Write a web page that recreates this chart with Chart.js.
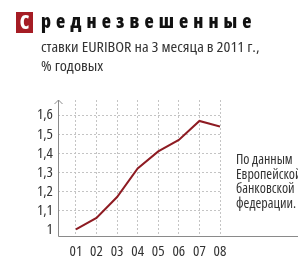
<!DOCTYPE html>
<html><head><meta charset="utf-8">
<script src="https://cdn.jsdelivr.net/npm/chart.js@4/dist/chart.umd.min.js"></script>
<style>
html,body{margin:0;padding:0;background:#fff;}
#wrap{position:relative;width:298px;height:261px;overflow:hidden;font-family:"Open Sans",sans-serif;font-stretch:condensed;color:#222;}
#c{position:absolute;left:0;top:0;}
.t{position:absolute;white-space:nowrap;}
#box{left:16px;top:12px;width:17px;height:21px;background:#a51c24;color:#fff;font-weight:800;font-size:19px;line-height:21px;text-align:center;}
#h1{left:41px;top:8px;font-weight:800;font-size:19px;letter-spacing:5.1px;line-height:26px;color:#111;}
#h2{left:41px;top:37px;font-size:14.5px;line-height:20px;color:#333;transform:scaleX(1.12);transform-origin:0 0;}
#h3{left:41px;top:56px;font-size:14.5px;line-height:20px;color:#333;transform:scaleX(1.12);transform-origin:0 0;}
#note{left:236px;top:152px;font-size:14px;line-height:14.5px;color:#333;}
</style></head>
<body><div id="wrap">
<canvas id="c" width="298" height="261"></canvas>
<div class="t" id="box">С</div>
<div class="t" id="h1">реднезвешенные</div>
<div class="t" id="h2">ставки EURIBOR на 3 месяца в 2011 г.,</div>
<div class="t" id="h3">% годовых</div>
<div class="t" id="note">По данным<br>Европейской<br>банковской<br>федерации.</div>
</div>
<script>
const categories = ['01','02','03','04','05','06','07','08'];
const rates = [1.00, 1.06, 1.17, 1.32, 1.41, 1.47, 1.57, 1.54];
const yTickValues = [1, 1.1, 1.2, 1.3, 1.4, 1.5, 1.6];
const yTickLabels = ['1','1,1','1,2','1,3','1,4','1,5','1,6'];

const points = rates.map((v, i) => ({x: i + 1, y: v}));
const FONT = '"Open Sans",sans-serif';

// make canvas text condensed (ctx.font resets stretch, so re-apply on every set)
const canvas = document.getElementById('c');
const ctx2d = canvas.getContext('2d');
const fontDesc = Object.getOwnPropertyDescriptor(CanvasRenderingContext2D.prototype, 'font');
if (fontDesc && 'fontStretch' in ctx2d) {
  Object.defineProperty(ctx2d, 'font', {
    configurable: true,
    get() { return fontDesc.get.call(this); },
    set(v) { fontDesc.set.call(this, v); this.fontStretch = 'condensed'; }
  });
}

const axesPlugin = {
  id: 'axesPlugin',
  afterDraw(chart) {
    const {ctx, chartArea: a} = chart;
    ctx.save();
    ctx.strokeStyle = '#8a8a8a';
    ctx.lineWidth = 1;
    ctx.beginPath();
    ctx.moveTo(a.left + 0.5, a.top);
    ctx.lineTo(a.left + 0.5, a.bottom + 0.5);
    ctx.lineTo(chart.width, a.bottom + 0.5);
    ctx.stroke();
    ctx.beginPath();
    ctx.moveTo(a.left - 3.5, a.top + 4);
    ctx.lineTo(a.left + 0.5, a.top);
    ctx.lineTo(a.left + 4.5, a.top + 4);
    ctx.stroke();
    ctx.restore();
  }
};

new Chart(canvas, {
  type: 'line',
  data: {
    datasets: [{
      data: points,
      borderColor: '#8e1b22',
      borderWidth: 2,
      pointRadius: 0,
      tension: 0,
      fill: false
    }]
  },
  options: {
    responsive: false,
    animation: false,
    layout: {padding: {left: 0, right: 78, top: 100, bottom: 0}},
    plugins: {legend: {display: false}, tooltip: {enabled: false}, title: {display: false}},
    scales: {
      x: {
        type: 'linear',
        min: 0.13,
        max: 8,
        afterBuildTicks(s) { s.ticks = categories.map((c, i) => ({value: i + 1})); },
        afterFit(s) { s.height = 25; },
        ticks: {
          callback: (v) => categories[Math.round(v) - 1],
          font: {family: FONT, size: 15},
          color: '#333',
          padding: 7,
          maxRotation: 0,
          autoSkip: false
        },
        grid: {color: '#c4c4c4', lineWidth: 1, drawTicks: false},
        border: {display: false, dash: [2, 2]}
      },
      y: {
        min: 0.965,
        max: 1.68,
        afterBuildTicks(s) { s.ticks = yTickValues.map(v => ({value: v})); },
        afterFit(s) { s.width = 58; },
        ticks: {
          callback: (v) => yTickLabels[yTickValues.findIndex(t => Math.abs(t - v) < 1e-6)],
          font: {family: FONT, size: 15},
          color: '#333',
          padding: 5,
          autoSkip: false
        },
        grid: {
          color: (ctx) => (ctx.tick && Math.abs(ctx.tick.value - 1) < 1e-6) ? 'rgba(0,0,0,0)' : '#c4c4c4',
          lineWidth: 1,
          drawTicks: false
        },
        border: {display: false, dash: [2, 2]}
      }
    }
  },
  plugins: [axesPlugin]
});
</script>
</body></html>
